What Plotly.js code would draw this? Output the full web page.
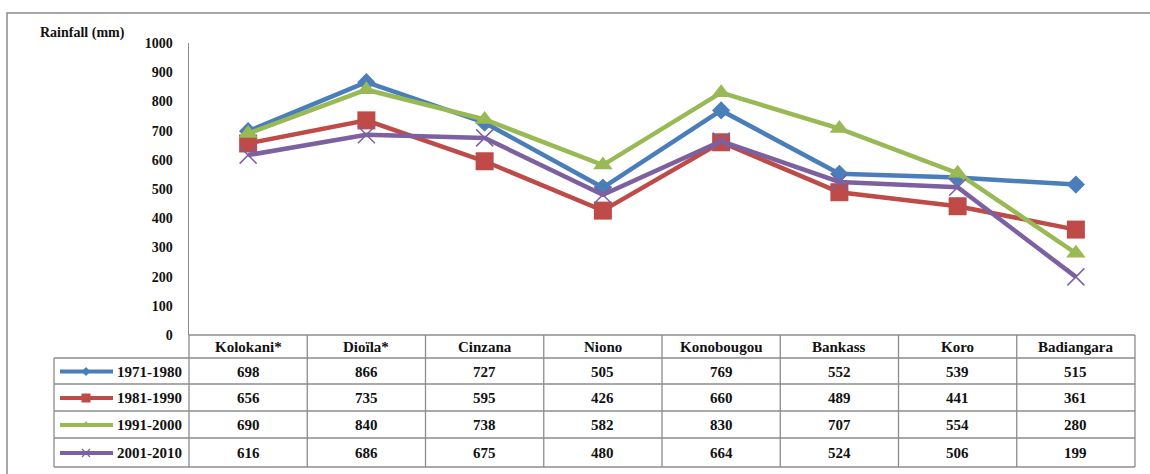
<!DOCTYPE html>
<html>
<head>
<meta charset="utf-8">
<script src="https://cdn.plot.ly/plotly-3.0.1.min.js"></script>
<style>html,body{margin:0;padding:0;background:#fff;overflow:hidden}#chart{width:1150px;height:474px}</style>
</head>
<body>
<div id="chart"></div>
<script>
// ---- data ----
const categories = ['Kolokani*', 'Dioïla*', 'Cinzana', 'Niono', 'Konobougou', 'Bankass', 'Koro', 'Badiangara'];
const periods = ['1971-1980', '1981-1990', '1991-2000', '2001-2010'];
const rain1971 = [698, 866, 727, 505, 769, 552, 539, 515];
const rain1981 = [656, 735, 595, 426, 660, 489, 441, 361];
const rain1991 = [690, 840, 738, 582, 830, 707, 554, 280];
const rain2001 = [616, 686, 675, 480, 664, 524, 506, 199];
const yTicks = [0, 100, 200, 300, 400, 500, 600, 700, 800, 900, 1000];

// ---- styling / geometry ----
const W = 1150, H = 474;
const plotL = 189, plotR = 1135, plotT = 43, plotB = 335;
const headerB = 358;
const rowEdges = [358, 384, 411, 438, 467];
const legendL = 54;
const gridColor = '#8c8c8c';
const txt = '#111';
const serif = 'Liberation Serif';
const seriesData = [rain1971, rain1981, rain1991, rain2001];
const colors = ['#4A7EBB', '#BE4B48', '#98B954', '#7D60A0'];
const symbols = ['diamond', 'square', 'triangle-up', 'x-thin'];
const sizes = [14, 18, 17, 17];
const legSizes = [7, 9, 8, 8];

const traces = [];
seriesData.forEach((vals, i) => {
  traces.push({
    type: 'scatter', mode: 'lines+markers',
    x: categories.map((c, k) => k), y: vals, name: periods[i],
    xaxis: 'x', yaxis: 'y',
    line: {color: colors[i], width: 4.5},
    marker: {symbol: symbols[i], size: sizes[i], color: colors[i],
      line: {color: colors[i], width: symbols[i] === 'x-thin' ? 1.5 : 0}},
    showlegend: false, hoverinfo: 'skip'
  });
});

const colW = (plotR - plotL) / categories.length;
const shapes = [];
const annotations = [];
const L = (x0, y0, x1, y1, c, w) => shapes.push({type: 'line', xref: 'x2', yref: 'y2', x0, y0, x1, y1, line: {color: c || gridColor, width: w || 1.3}});

// outer frame: rectangle running off the right and bottom edges, so only left and top show
shapes.push({type: 'rect', xref: 'paper', yref: 'paper', x0: 7 / W, y0: 1 - 13 / H, x1: (W + 40) / W, y1: -40 / H,
  line: {color: '#8a8a8a', width: 1.5}, fillcolor: 'rgba(0,0,0,0)'});

// table horizontal lines
L(plotL, plotB, plotR, plotB);
rowEdges.forEach(y => L(legendL, y, plotR, y));
// verticals
L(plotL, plotB, plotL, rowEdges[rowEdges.length - 1]);
L(legendL, rowEdges[0], legendL, rowEdges[rowEdges.length - 1]);
for (let k = 1; k <= categories.length; k++) {
  const x = plotL + k * colW;
  L(x, plotB, x, rowEdges[rowEdges.length - 1]);
}

const ann = (x, y, text, xanchor) => annotations.push({xref: 'x2', yref: 'y2', x, y, text: '<b>' + text + '</b>', showarrow: false,
  xanchor: xanchor || 'center', yanchor: 'middle', font: {family: serif, size: 15, color: txt}});

// header
categories.forEach((c, k) => ann(plotL + (k + 0.5) * colW, (plotB + headerB) / 2 + 0.5, c));
// rows
const legX = [], legY = [];
seriesData.forEach((vals, i) => {
  const yc = (rowEdges[i] + rowEdges[i + 1]) / 2 + 0.5;
  vals.forEach((v, k) => ann(plotL + (k + 0.5) * colW, yc, String(v)));
  ann(184, yc, periods[i], 'right');
  L(60, yc, 113, yc, colors[i], 4);
  legX.push(86); legY.push(yc);
});
// legend sample markers
seriesData.forEach((vals, i) => {
  traces.push({type: 'scatter', mode: 'markers', xaxis: 'x2', yaxis: 'y2',
    x: [legX[i]], y: [legY[i]], showlegend: false, hoverinfo: 'skip',
    marker: {symbol: symbols[i], size: legSizes[i], color: colors[i],
      line: {color: colors[i], width: symbols[i] === 'x-thin' ? 1.2 : 0}}});
});

// axis title
annotations.push({xref: 'x2', yref: 'y2', x: 38, y: 33, text: '<b>Rainfall (mm)</b>', showarrow: false,
  xanchor: 'left', yanchor: 'middle', font: {family: serif, size: 14, color: txt}});

const layout = {
  width: W, height: H,
  margin: {l: 0, r: 0, t: 0, b: 0, pad: 0},
  paper_bgcolor: '#fff', plot_bgcolor: 'rgba(0,0,0,0)',
  showlegend: false,
  xaxis: {domain: [plotL / W, plotR / W], range: [-0.5, categories.length - 0.5],
    showticklabels: false, showgrid: false, zeroline: false, showline: false, ticks: '', fixedrange: true},
  yaxis: {domain: [(H - plotB) / H, (H - plotT) / H], range: [0, 1000],
    tickvals: yTicks, ticktext: yTicks.map(v => '<b>' + v + '</b>'), showgrid: false, zeroline: false,
    showline: true, linecolor: gridColor, linewidth: 1.5, ticks: '', ticklabelstandoff: 12,
    tickfont: {family: serif, size: 14, color: txt}, fixedrange: true},
  xaxis2: {domain: [0, 1], range: [0, W], visible: false, anchor: 'y2', fixedrange: true},
  yaxis2: {domain: [0, 1], range: [H, 0], visible: false, anchor: 'x2', fixedrange: true},
  shapes, annotations
};

Plotly.newPlot('chart', traces, layout, {displayModeBar: false, staticPlot: true});
</script>
</body>
</html>
